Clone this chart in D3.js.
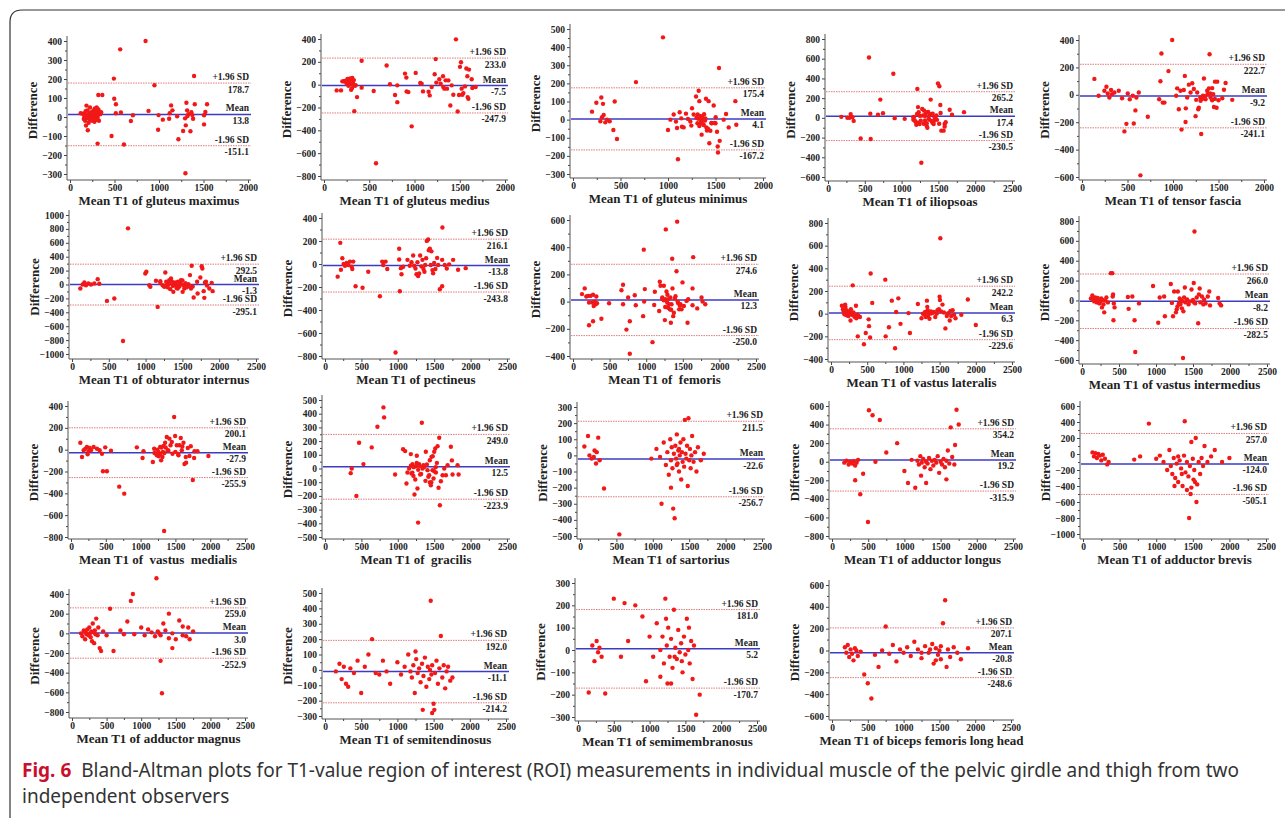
<!DOCTYPE html>
<html>
<head>
<meta charset="utf-8">
<script src="https://cdn.jsdelivr.net/npm/d3@7"></script>
<style>
  body { margin: 0; background: #fff; }
  svg text { white-space: pre; }
</style>
</head>
<body>
<script>
// Panel titles (x axis)
var titles = [
  "Mean T1 of gluteus maximus", "Mean T1 of gluteus medius", "Mean T1 of gluteus minimus",
  "Mean T1 of iliopsoas", "Mean T1 of tensor fascia",
  "Mean T1 of obturator internus", "Mean T1 of pectineus", "Mean T1 of  femoris",
  "Mean T1 of vastus lateralis", "Mean T1 of vastus intermedius",
  "Mean T1 of  vastus  medialis", "Mean T1 of  gracilis", "Mean T1 of sartorius",
  "Mean T1 of adductor longus", "Mean T1 of adductor brevis",
  "Mean T1 of adductor magnus", "Mean T1 of semitendinosus", "Mean T1 of semimembranosus",
  "Mean T1 of biceps femoris long head"];

var xMax = [2000, 2000, 2000, 2500, 2000, 2500, 2500, 2500, 2500, 2500,
  2500, 2500, 2500, 2500, 2500, 2500, 2500, 2500, 2500];

// [min, max, step] of y ticks
var yTicks = [[-300, 400, 100], [-800, 400, 200], [-300, 500, 100], [-600, 800, 200], [-600, 400, 200],
  [-1000, 1000, 200], [-800, 400, 200], [-400, 600, 200], [-400, 800, 200], [-600, 800, 200],
  [-800, 400, 200], [-500, 500, 100], [-500, 300, 100], [-800, 600, 200], [-1000, 600, 200],
  [-800, 400, 200], [-300, 500, 100], [-300, 300, 100], [-600, 600, 200]];

var upperSD = [178.7, 233.0, 175.4, 265.2, 222.7, 292.5, 216.1, 274.6, 242.2, 266.0,
  200.1, 249.0, 211.5, 354.2, 257.0, 259.0, 192.0, 181.0, 207.1];
var meanDiff = [13.8, -7.5, 4.1, 17.4, -9.2, -1.3, -13.8, 12.3, 6.3, -8.2,
  -27.9, 12.5, -22.6, 19.2, -124.0, 3.0, -11.1, 5.2, -20.8];
var lowerSD = [-151.1, -247.9, -167.2, -230.5, -241.1, -295.1, -243.8, -250.0, -229.6, -282.5,
  -255.9, -223.9, -256.7, -315.9, -505.1, -252.9, -214.2, -170.7, -248.6];

// scatter points [mean, difference]
var pGluteusMax = [[120,20],[140,18],[155,-10],[160,5],[165,15],[170,-20],[175,30],[180,-45],[185,60],[190,-5],[195,35],[200,-70],[205,10],[210,-30],[215,20],[220,-15],[225,50],[230,0],[235,-10],[240,25],[245,5],[250,-20],[255,15],[260,-5],[265,35],[270,10],[275,-25],[280,45],[285,0],[290,20],[295,-15],[300,50],[305,30],[310,-5],[315,10],[320,40],[325,-20],[330,25],[340,15],[350,25],[318,116],[363,116],[310,-140],
  [467,-100],[493,202],[497,96],[516,67],[564,356],[572,24],[606,-145],[684,-21],[707,9],[515,20],[849,400],[882,32],[949,167],[990,-67],[995,10],[1043,-14],[1114,-9],[1120,20],[1136,61],[1151,35],[1204,4],[1218,-117],[1271,-74],[1293,-7],[1297,-296],[1301,-44],[1308,75],[1316,35],[1320,5],[1330,15],[1353,-75],[1364,25],[1375,10],[1383,-9],[1394,216],[1402,67],[1506,9],[1506,-39],[1521,26],[1540,67]];
var pGluteusMed = [[140,-50],[188,-50],[203,29],[232,29],[269,44],[298,44],[313,59],[416,209],[416,-26],[365,-109],[335,-232],[549,-56],[575,-688],[692,168],[729,3],[785,-91],[810,-6],[810,-153],[895,97],[910,62],[913,-59],[932,-65],[969,-365],[1013,103],[1064,15],[1079,9],[1094,-59],[1156,-62],[1168,-94],[1190,-21],[1223,91],[1234,224],[1241,18],[1274,47],[1289,9],[1315,74],[1318,-21],[1330,-35],[1344,38],[1359,-35],[1374,38],[1396,-182],[1411,-6],[1429,-88],[1458,397],[1477,-235],[1492,-91],[1503,156],[1514,197],[1521,-35],[1529,-88],[1540,-74],[1558,-15],[1573,141],[1584,74],[1587,-109],[1595,-124],[1602,132],[1632,47],[1639,-29],[1676,-21],
  [220,30],[240,35],[250,10],[260,50],[270,-10],[280,20],[290,55],[300,5],[310,-30],[320,15],[330,40],[340,-10],[350,-5],[300,-45]];
var pGluteusMin = [[200,44],[246,93],[298,122],[316,87],[323,26],[305,13],[288,-9],[340,-15],[358,0],[386,-9],[425,-57],[439,100],[463,-107],[663,207],[947,454],[1000,-57],[1025,0],[1060,28],[1084,-11],[1095,-46],[1105,-219],[1123,41],[1140,7],[1147,-39],[1165,-43],[1189,33],[1210,4],[1235,-11],[1246,-33],[1253,63],[1270,28],[1295,128],[1312,28],[1323,159],[1330,102],[1340,7],[1347,-19],[1354,-83],[1361,0],[1376,-30],[1393,7],[1400,115],[1404,-43],[1418,-56],[1428,102],[1435,-130],[1446,-61],[1456,-19],[1481,78],[1491,-19],[1502,13],[1516,-67],[1523,-148],[1526,-181],[1544,-117],[1537,285],[1586,0],[1611,31],[1639,-43],[1709,102],[1719,-28],
  [1300,10],[1310,-20],[1320,5],[1330,-35],[1340,20],[1350,-10],[1360,15],[1370,-25],[1380,30],[1390,-5],[1410,-60],[1420,-50],[1460,-20],[1500,-20]];
var pIliopsoas = [[181,10],[263,0],[294,0],[308,38],[331,7],[349,-31],[444,-209],[557,612],[575,41],[580,-215],[679,31],[711,185],[747,48],[888,448],[906,-3],[1042,-10],[1159,7],[1178,-27],[1214,294],[1223,109],[1232,58],[1245,-62],[1268,-455],[1291,24],[1304,75],[1318,-27],[1327,41],[1341,-55],[1354,58],[1368,-10],[1381,24],[1395,185],[1408,-34],[1422,41],[1436,-62],[1449,7],[1472,24],[1494,349],[1513,321],[1526,130],[1540,-130],[1571,-130],[1585,-62],[1599,-44],[1585,-89],[1653,82],[1685,31],[1848,58],
  [1160,-20],[1170,10],[1190,-40],[1200,-70],[1210,40],[1230,-50],[1250,20],[1260,-30],[1280,90],[1300,-60],[1320,20],[1340,-80],[1350,-100],[1360,60],[1380,-20],[1400,40],[1420,-50],[1440,-30],[1460,10],[1480,-20],[1510,-60],[1530,50]];
var pTensor = [[136,116],[183,-7],[246,30],[268,59],[283,10],[301,-20],[319,35],[330,5],[356,17],[404,30],[440,-25],[466,-267],[488,-212],[503,10],[525,-32],[558,-7],[569,-210],[587,-114],[598,-20],[624,17],[642,-588],[723,-160],[848,-32],[862,99],[873,301],[888,-57],[906,-57],[950,173],[991,400],[1035,-7],[1046,47],[1064,-106],[1082,30],[1094,-254],[1119,35],[1130,138],[1138,-198],[1141,-99],[1156,-20],[1174,74],[1193,17],[1211,84],[1229,42],[1248,-156],[1255,-37],[1266,17],[1277,-106],[1284,-94],[1303,-44],[1310,-286],[1329,-7],[1340,119],[1358,-32],[1376,30],[1395,47],[1402,296],[1413,-20],[1431,49],[1442,5],[1450,-89],[1461,96],[1479,-94],[1486,96],[1541,-25],[1560,37],[1578,86],[1651,-37],
  [1300,-20],[1320,-30],[1350,-10],[1380,5],[1410,10],[1430,-40],[1460,-30],[1500,-40]];
var pObturator = [[113,-58],[145,0],[168,29],[190,-10],[222,14],[258,0],[303,14],[349,77],[371,10],[475,-236],[575,-202],[693,-812],[761,808],[996,159],[1010,183],[1051,-10],[1064,-34],[1141,53],[1164,-322],[1268,173],[1200,48],[1232,-10],[1254,-34],[1300,0],[1322,63],[1336,-67],[1345,87],[1359,38],[1377,-106],[1390,14],[1413,-10],[1436,-58],[1467,0],[1481,63],[1503,-106],[1526,-58],[1549,-24],[1581,5],[1603,135],[1617,-58],[1626,269],[1653,-188],[1707,-130],[1744,101],[1762,264],[1771,231],[1789,-96],[1798,-192],[1807,29],[1834,-14],[1866,-58],[1898,24],[1911,-96],
  [1200,20],[1250,-20],[1280,40],[1300,-40],[1320,10],[1350,50],[1370,-20],[1400,30],[1420,-50],[1440,40],[1460,-30],[1480,10],[1500,60],[1520,-10],[1540,20],[1560,-40],[1600,-20],[1640,-30],[1700,40],[1820,40]];
var pPectineus = [[174,-110],[210,184],[219,-50],[238,50],[256,0],[274,-15],[297,9],[320,-9],[343,21],[366,-24],[388,21],[375,-44],[420,-193],[516,-207],[594,-68],[754,-281],[786,21],[800,-9],[832,21],[855,-44],[969,-770],[1019,133],[1019,39],[1028,-237],[1042,-36],[1051,-89],[1074,-24],[1133,36],[1165,-15],[1188,15],[1211,74],[1225,-15],[1243,-39],[1257,-89],[1270,15],[1279,-104],[1293,-83],[1307,74],[1325,-21],[1339,36],[1353,-44],[1366,-68],[1376,-9],[1389,50],[1398,201],[1417,213],[1426,119],[1440,133],[1453,-9],[1462,110],[1476,-53],[1485,-80],[1499,9],[1517,-44],[1540,53],[1554,-9],[1577,-219],[1609,-193],[1613,317],[1609,36],[1645,-9],[1673,-39],[1705,-3],[1760,36],[1828,-50],[1933,-36]];
var pFemoris = [[123,55],[160,97],[182,37],[205,42],[219,-7],[219,-174],[237,42],[265,-7],[274,50],[283,-32],[297,0],[310,-20],[319,37],[328,-12],[274,-144],[388,-126],[493,-12],[662,84],[684,124],[684,-20],[730,-206],[753,30],[776,-144],[776,-384],[844,47],[858,-27],[958,-107],[967,382],[981,92],[972,0],[1086,-298],[1109,-25],[1118,72],[1177,-69],[1186,146],[1195,117],[1218,22],[1241,117],[1255,-136],[1264,17],[1268,531],[1277,74],[1287,-7],[1300,-45],[1314,22],[1323,-57],[1337,-156],[1346,-20],[1355,315],[1359,97],[1369,-107],[1378,-82],[1391,22],[1414,223],[1423,588],[1437,-12],[1450,-57],[1469,-20],[1483,-57],[1496,141],[1515,-32],[1551,5],[1565,-156],[1574,17],[1633,97],[1642,327],[1633,-27],[1697,-50],[1756,30],[1770,0],[1807,-20],
  [1220,30],[1240,10],[1260,-40],[1290,50],[1310,-20],[1330,30],[1340,-60],[1400,40],[1430,0],[1460,-30]];
var pVastusLat = [[150,70],[165,40],[175,20],[185,-5],[195,80],[200,60],[205,-10],[210,10],[215,30],[220,-15],[230,0],[240,-20],[250,15],[260,-5],[265,25],[270,-60],[275,40],[280,5],[290,-10],[300,250],[310,10],[320,-20],[330,-30],[345,70],[350,-40],[360,-10],[370,-200],[380,-20],[400,-30],[455,-270],[480,-170],[520,-50],[525,-110],[540,-210],[548,355],[570,95],[750,300],[755,-200],[800,-120],[840,115],[885,-305],[900,15],[930,135],[960,-90],[1070,5],[1090,-170],[1200,85],[1250,-40],[1270,0],[1290,-10],[1300,15],[1310,-30],[1320,10],[1325,115],[1330,60],[1335,30],[1340,-20],[1350,10],[1360,-45],[1370,0],[1380,20],[1400,5],[1420,15],[1440,-30],[1460,0],[1470,30],[1490,40],[1500,150],[1505,120],[1510,665],[1520,20],[1540,80],[1560,10],[1580,-130],[1600,-20],[1620,5],[1640,-60],[1650,25],[1660,-20],[1680,30],[1700,-10],[1720,-40],[1800,-10],[1890,125],[2000,-100]];
var pVastusInt = [[120,20],[140,50],[150,10],[165,-10],[180,30],[190,0],[200,-20],[210,25],[220,10],[235,-30],[250,-10],[260,20],[270,-70],[280,5],[290,-40],[300,-120],[310,0],[330,30],[350,-20],[390,275],[410,275],[415,40],[420,60],[425,-200],[430,-30],[440,-70],[620,35],[630,-85],[680,40],[710,-200],[720,-520],[770,-30],[960,145],[1030,-225],[1050,30],[1110,40],[1120,-160],[1200,165],[1215,-25],[1230,-160],[1245,90],[1270,-120],[1280,-90],[1290,-60],[1295,90],[1310,-30],[1320,20],[1330,-40],[1340,0],[1350,-80],[1360,-10],[1365,-580],[1370,-110],[1380,30],[1390,130],[1400,-20],[1420,10],[1440,-40],[1460,-10],[1480,110],[1500,5],[1510,175],[1515,-20],[1520,695],[1530,-30],[1550,30],[1570,-230],[1580,60],[1590,120],[1600,-20],[1620,40],[1640,-40],[1650,10],[1670,-30],[1700,40],[1720,90],[1730,-50],[1840,25],[1860,-30],[1880,-50]];
var pVastusMed = [[134,64],[158,-67],[182,-6],[206,9],[229,24],[239,-43],[253,-15],[268,15],[287,-6],[325,24],[373,9],[411,-6],[445,-37],[459,-198],[492,21],[516,-198],[574,-9],[693,-339],[765,-403],[946,21],[1028,-76],[1042,-15],[1176,-113],[1195,9],[1233,-52],[1257,-21],[1281,24],[1295,-98],[1314,-67],[1329,34],[1338,-745],[1352,64],[1376,116],[1391,-6],[1414,101],[1448,70],[1458,-37],[1482,299],[1496,125],[1520,40],[1544,-52],[1558,40],[1577,107],[1592,-6],[1616,64],[1630,-131],[1649,-67],[1654,-119],[1678,15],[1702,-58],[1721,31],[1750,-278],[1769,-76],[1774,-15],[1817,-15],[1974,-58],
  [1200,-30],[1240,0],[1260,-60],[1280,-40],[1300,20],[1320,-20],[1340,-30],[1360,20],[1400,-10],[1430,40],[1500,-20],[1540,-40],[1600,30]];
var pGracilis = [[353,-34],[367,0],[431,-200],[468,188],[528,32],[642,154],[720,305],[803,446],[812,373],[963,-44],[1073,141],[1101,127],[1119,-110],[1133,-29],[1156,0],[1179,105],[1188,-37],[1202,32],[1215,-54],[1229,-190],[1248,17],[1261,93],[1270,-146],[1279,-395],[1293,32],[1307,-44],[1330,334],[1353,24],[1385,122],[1408,-12],[1431,-49],[1440,-102],[1454,-122],[1463,85],[1477,-12],[1491,-73],[1500,122],[1514,146],[1523,-29],[1537,41],[1546,163],[1560,-141],[1569,224],[1578,-268],[1592,-93],[1615,-49],[1638,0],[1661,-49],[1684,24],[1729,159],[1743,59],[1752,-44],[1821,24],[1835,-44],
  [1180,20],[1200,-30],[1220,10],[1240,-80],[1260,40],[1280,-10],[1300,20],[1320,-40],[1340,0],[1360,10],[1380,-90],[1400,30],[1420,-60],[1440,60],[1460,-100],[1480,90],[1500,-20],[1520,10]];
var pSartorius = [[60,55],[110,120],[130,0],[160,-20],[200,30],[220,-50],[250,110],[270,-30],[230,20],[190,-10],[330,-205],[540,-490],
  [980,-20],[1050,40],[1100,-10],[1120,-300],[1150,80],[1180,-60],[1200,20],[1220,-120],[1240,100],[1250,-30],[1260,50],[1270,-80],[1280,-330],[1290,10],[1300,-390],[1310,60],[1320,-20],[1330,130],[1340,-50],[1350,30],[1360,-100],[1370,0],[1380,80],[1390,-150],[1400,20],[1410,-40],[1420,100],[1430,-70],[1440,220],[1450,10],[1460,-20],[1470,60],[1480,-190],[1490,230],[1500,-30],[1510,40],[1520,-80],[1530,0],[1540,120],[1560,-40],[1580,20],[1600,-100],[1620,50],[1660,-30],[1700,10],[1330,-60],[1360,40],[1250,-200]];
var pAddLongus = [[170,-10],[200,10],[230,-30],[250,0],[280,-20],[300,5],[320,-40],[340,-10],[360,20],[320,-200],[430,-130],[390,-350],[497,-650],[510,555],[560,500],[600,0],[660,450],[750,100],[900,200],[1000,-100],[1050,-230],[1100,20],[1150,-280],
  [1180,10],[1200,-30],[1220,60],[1240,-10],[1260,30],[1280,-60],[1300,0],[1320,-20],[1340,40],[1360,-80],[1380,10],[1400,-40],[1420,20],[1440,-10],[1460,60],[1480,-120],[1500,0],[1520,-30],[1540,30],[1560,-60],[1580,10],[1600,120],[1620,-20],[1640,370],[1660,50],[1690,-30],[1720,560],[1750,400],[1300,-230],[1230,-150],[1700,180],[1580,-190]];
var pAddBrevis = [[130,20],[150,-30],[170,10],[190,-50],[210,0],[230,-20],[250,-80],[270,-10],[300,-60],[330,-130],[350,-100],[700,-70],[780,-30],[900,380],
  [1000,-60],[1050,-20],[1100,-100],[1150,-200],[1180,50],[1200,-150],[1220,-250],[1240,-50],[1260,-300],[1280,-120],[1300,-350],[1320,-80],[1340,-180],[1360,-400],[1380,-20],[1390,410],[1400,-230],[1420,-100],[1440,-280],[1450,-800],[1460,-150],[1480,-420],[1500,-60],[1510,-320],[1520,-200],[1540,200],[1560,-380],[1580,-100],[1600,-250],[1620,-50],[1640,-150],[1660,100],[1700,-100],[1750,-30],[1800,50],[1900,-100],[2000,-50],[1300,-30],[1350,-250],[1420,-450],[1470,-500],[1550,-600],[1250,-400],[1480,150],[1530,-350]];
var pAddMagnus = [[130,0],[150,-30],[170,30],[190,-60],[200,10],[210,-10],[220,40],[240,-20],[250,60],[260,0],[270,-40],[280,20],[290,-80],[300,100],[310,10],[320,-100],[330,30],[340,-10],[350,150],[370,-20],[380,60],[400,-150],[420,-180],[450,20],[500,-20],[550,250],[600,-180],[700,30],[750,-10],[800,120],[850,330],[880,400],
  [900,-10],[1000,60],[1050,-20],[1100,40],[1150,10],[1200,-30],[1220,560],[1240,20],[1260,0],[1280,-20],[1300,-610],[1320,100],[1350,30],[1400,-50],[1450,0],[1500,-60],[1550,130],[1600,70],[1650,-30],[1700,-60],[1750,20],[1600,-20],[1400,200],[1280,-280],[1680,60],[1450,-150]];
var pSemitend = [[150,-10],[200,40],[230,-60],[260,20],[290,-90],[320,-110],[350,10],[400,-20],[450,60],[500,-150],[550,20],[600,100],[650,200],[700,-20],[750,-30],[800,60],[850,-10],[900,-90],[1000,50],[1050,-30],[1100,20],[1150,100],[1180,-10],[1200,-50],[1220,30],[1240,-150],[1260,70],[1280,-20],[1300,10],[1320,-80],[1340,40],[1360,-40],[1380,80],[1400,-110],[1420,20],[1440,-60],[1460,450],[1470,-30],[1480,30],[1500,-220],[1510,-260],[1520,-20],[1540,60],[1560,-90],[1580,10],[1600,220],[1620,-50],[1640,30],[1660,-120],[1680,-10],[1700,20],[1730,-70],[1760,-50],[1350,-260],[1250,120],[1450,0],[1480,-280]];
var pSemimem = [[150,-190],[200,20],[230,-50],[260,40],[280,-10],[300,10],[330,-30],[380,-195],[500,230],[600,-30],[650,210],[700,40],[800,200],[900,150],[950,-140],[1000,60],[1050,-30],[1100,120],[1150,0],[1180,60],[1200,-60],[1220,230],[1240,20],[1250,-150],[1260,100],[1280,-30],[1300,50],[1320,-80],[1340,180],[1360,10],[1380,-40],[1400,90],[1420,-10],[1440,30],[1460,-100],[1480,60],[1500,-20],[1520,140],[1540,0],[1560,-60],[1580,40],[1600,-130],[1620,20],[1650,-290],[1700,-200],[1350,-30],[1450,-50],[1300,-150],[1230,140],[1550,100],[1150,-120]];
var pBiceps = [[180,30],[200,-20],[220,50],[240,-60],[260,10],[280,-30],[300,-90],[320,20],[340,0],[360,-50],[400,-10],[450,-220],[500,-300],[550,-440],[600,-40],[650,-150],[700,0],[750,220],[800,-30],[850,50],[900,-100],[950,10],[1000,-20],[1050,30],[1100,-50],[1150,80],[1200,10],[1250,-70],[1300,40],[1350,-20],[1400,60],[1420,-120],[1450,20],[1480,-40],[1500,0],[1520,-80],[1550,250],[1580,460],[1600,-150],[1620,10],[1650,-60],[1700,30],[1750,-20],[1800,-80],[1900,20],[1250,-20],[1370,10],[1450,-90],[1520,40]];

var points = [pGluteusMax, pGluteusMed, pGluteusMin, pIliopsoas, pTensor,
  pObturator, pPectineus, pFemoris, pVastusLat, pVastusInt,
  pVastusMed, pGracilis, pSartorius, pAddLongus, pAddBrevis,
  pAddMagnus, pSemitend, pSemimem, pBiceps];

// Layout (pixels): y-axis x, x-axis y, top tick y, bottom tick y, plot width
var axisX = [67, 321, 570, 825, 1079, 69, 322, 570, 828, 1079, 68, 322, 577, 829, 1080, 69, 322, 575, 829];
var axisY = [180, 180, 178, 181, 180, 359, 359, 359, 362, 364, 539, 539, 539, 539, 539, 718, 719, 721, 720];
var topTick = [41, 39, 29, 39, 40, 215, 218, 220, 223, 221, 406, 400, 407, 406, 406, 594, 593, 583, 585];
var botTick = [174, 176, 174, 177, 177, 354, 356, 356, 359, 360, 537, 537, 536, 536, 534, 712, 716, 717, 716];
var plotW = [178, 181, 190, 184, 182, 184, 182, 183, 181, 185, 174, 182, 182, 181, 183, 173, 181, 179, 179];

var serif = "'Liberation Serif', 'Times New Roman', serif";

var svg = d3.select("body").append("svg")
  .attr("width", 1285)
  .attr("height", 818);

// frame round the figure
svg.append("path")
  .attr("d", "M1285,10 L22,10 Q10,10 10,22 L10,818")
  .attr("fill", "none")
  .attr("stroke", "#333")
  .attr("stroke-width", 1.2);

titles.forEach(function(title, i) {
  var t = yTicks[i];
  var x = d3.scaleLinear().domain([0, xMax[i]]).range([axisX[i] + 3, axisX[i] + 3 + plotW[i]]);
  var y = d3.scaleLinear().domain([t[0], t[1]]).range([botTick[i], topTick[i]]);
  var g = svg.append("g");
  var xEnd = x(xMax[i]) + 3;

  // y axis
  var yAxis = d3.axisLeft(y)
    .tickValues(d3.range(t[0], t[1] + 1, t[2]))
    .tickFormat(d3.format("d"))
    .tickSize(3).tickPadding(2);
  var yMinor = d3.axisLeft(y)
    .tickValues(d3.range(t[0] + t[2] / 2, t[1], t[2]))
    .tickSize(2).tickFormat("");
  var ya = g.append("g").attr("transform", "translate(" + axisX[i] + ",0)").call(yAxis);
  g.append("g").attr("transform", "translate(" + axisX[i] + ",0)").call(yMinor).select(".domain").remove();
  ya.select(".domain").remove();

  // x axis
  var xAxis = d3.axisBottom(x)
    .tickValues(d3.range(0, xMax[i] + 1, 500))
    .tickFormat(d3.format("d"))
    .tickSize(3).tickPadding(1);
  var xMinor = d3.axisBottom(x)
    .tickValues(d3.range(250, xMax[i], 500))
    .tickSize(2).tickFormat("");
  var xa = g.append("g").attr("transform", "translate(0," + axisY[i] + ")").call(xAxis);
  g.append("g").attr("transform", "translate(0," + axisY[i] + ")").call(xMinor).select(".domain").remove();
  xa.select(".domain").remove();

  g.selectAll(".tick line").attr("stroke", "#444");
  g.selectAll(".tick text")
    .attr("font-family", serif)
    .attr("font-weight", "bold")
    .attr("font-size", 9.5)
    .attr("fill", "#222");

  g.append("line")
    .attr("x1", axisX[i]).attr("x2", axisX[i])
    .attr("y1", axisY[i]).attr("y2", topTick[i] - 5)
    .attr("stroke", "#555").attr("stroke-width", 1);
  g.append("line")
    .attr("x1", axisX[i]).attr("x2", xEnd)
    .attr("y1", axisY[i]).attr("y2", axisY[i])
    .attr("stroke", "#555").attr("stroke-width", 1);

  // limits of agreement
  [upperSD[i], lowerSD[i]].forEach(function(v) {
    g.append("line")
      .attr("x1", axisX[i] + 1).attr("x2", xEnd)
      .attr("y1", y(v)).attr("y2", y(v))
      .attr("stroke", "#e07b7b").attr("stroke-width", 1)
      .attr("stroke-dasharray", "1.5,1");
  });
  g.append("line")
    .attr("x1", axisX[i] + 1).attr("x2", xEnd)
    .attr("y1", y(meanDiff[i])).attr("y2", y(meanDiff[i]))
    .attr("stroke", "#3b3bc4").attr("stroke-width", 1.5);

  // points
  g.append("g").selectAll("circle")
    .data(points[i])
    .enter().append("circle")
    .attr("cx", function(d) { return x(d[0]); })
    .attr("cy", function(d) { return y(d[1]); })
    .attr("r", 2.2)
    .attr("fill", "#f21818");

  // labels at the right end of each line
  var labels = [["+1.96 SD", upperSD[i]], ["Mean", meanDiff[i]], ["-1.96 SD", lowerSD[i]]];
  labels.forEach(function(l) {
    g.append("text")
      .attr("x", xEnd - 2).attr("y", y(l[1]) - 3)
      .attr("text-anchor", "end")
      .attr("font-family", serif).attr("font-weight", "bold").attr("font-size", 9.5)
      .attr("fill", "#222")
      .text(l[0]);
    g.append("text")
      .attr("x", xEnd - 2).attr("y", y(l[1]) + 9.5)
      .attr("text-anchor", "end")
      .attr("font-family", serif).attr("font-weight", "bold").attr("font-size", 9.5)
      .attr("fill", "#222")
      .text(l[1].toFixed(1));
  });

  // axis titles
  g.append("text")
    .attr("transform", "translate(" + (axisX[i] - 30) + "," + ((topTick[i] + axisY[i]) / 2) + ")rotate(-90)")
    .attr("text-anchor", "middle")
    .attr("font-family", serif).attr("font-weight", "bold").attr("font-size", 13)
    .attr("fill", "#222")
    .text("Difference");
  g.append("text")
    .attr("x", axisX[i] + plotW[i] / 2 + 3).attr("y", axisY[i] + 25)
    .attr("text-anchor", "middle")
    .attr("font-family", serif).attr("font-weight", "bold").attr("font-size", 13)
    .attr("fill", "#222")
    .text(title);
});

// caption
var cap = svg.append("text")
  .attr("x", 22).attr("y", 777)
  .attr("font-family", "'Noto Sans', 'Open Sans', sans-serif")
  .attr("font-size", 19)
  .attr("fill", "#333");
cap.append("tspan").attr("font-weight", "bold").attr("fill", "#c8102e").text("Fig. 6");
cap.append("tspan").text("  Bland-Altman plots for T1-value region of interest (ROI) measurements in individual muscle of the pelvic girdle and thigh from two");
svg.append("text")
  .attr("x", 22).attr("y", 803)
  .attr("font-family", "'Noto Sans', 'Open Sans', sans-serif")
  .attr("font-size", 19)
  .attr("fill", "#333")
  .text("independent observers");
</script>
</body>
</html>
